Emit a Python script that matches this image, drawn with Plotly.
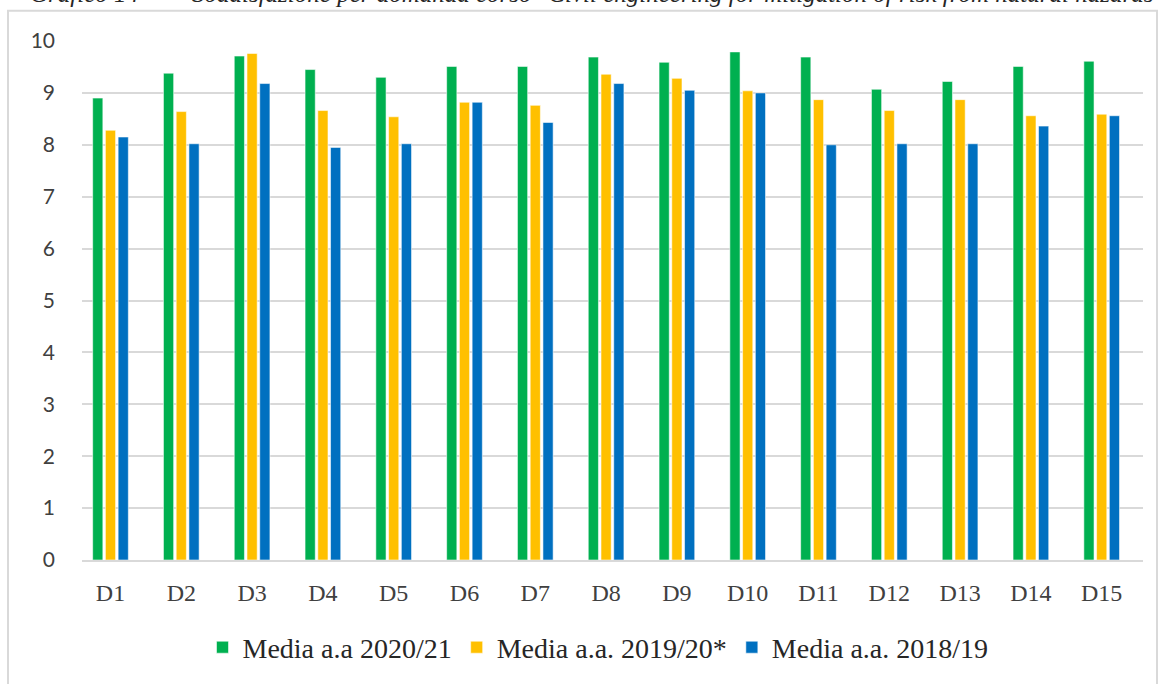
import plotly.graph_objects as go

categories = ["D1", "D2", "D3", "D4", "D5", "D6", "D7", "D8", "D9", "D10",
              "D11", "D12", "D13", "D14", "D15"]
media_2020_21 = [8.90, 9.38, 9.71, 9.45, 9.30, 9.51, 9.51, 9.69, 9.59, 9.79,
                 9.69, 9.07, 9.22, 9.51, 9.61]
media_2019_20 = [8.28, 8.64, 9.76, 8.66, 8.54, 8.82, 8.76, 9.36, 9.28, 9.04,
                 8.87, 8.66, 8.87, 8.56, 8.59]
media_2018_19 = [8.15, 8.02, 9.18, 7.95, 8.02, 8.82, 8.43, 9.18, 9.05, 9.00,
                 8.00, 8.02, 8.02, 8.36, 8.56]
series_names = ["Media a.a 2020/21", "Media a.a. 2019/20*", "Media a.a. 2018/19"]
series_colors = ["#00B050", "#FFC000", "#0070C0"]
y_ticks = [0, 1, 2, 3, 4, 5, 6, 7, 8, 9, 10]

W, H = 1162, 684
L, R, T, B = 82, 19, 41, 121
pw, ph = W - L - R, H - T - B

def px_x(x):
    return (x - L) / pw

def px_y(y):
    return (H - B - y) / ph

fig = go.Figure()
for name, vals, col in zip(series_names, [media_2020_21, media_2019_20, media_2018_19], series_colors):
    fig.add_trace(go.Bar(
        x=categories, y=vals, name=name,
        marker=dict(color=col, line=dict(color="rgba(255,255,255,0.55)", width=1)),
    ))

fig.update_layout(
    width=W, height=H, autosize=False,
    margin=dict(l=L, r=R, t=T, b=B),
    paper_bgcolor="white", plot_bgcolor="white",
    barmode="group", bargap=0.46, bargroupgap=0.2,
    showlegend=True,
    legend=dict(
        orientation="h", x=px_x(598), xanchor="center", y=px_y(651), yanchor="middle",
        font=dict(family="Liberation Serif", size=28, color="#262626"),
        itemwidth=30, tracegroupgap=0,
    ),
    xaxis=dict(
        range=[-0.4025, 14.5835],
        showgrid=False, showline=True, linecolor="#D9D9D9", linewidth=2,
        ticks="", tickfont=dict(family="Liberation Serif", size=24, color="#404040"),
        ticklabelstandoff=10,
    ),
    yaxis=dict(
        range=[0, 10], tickvals=y_ticks, showgrid=True, gridcolor="#D9D9D9", gridwidth=2,
        zeroline=False, showline=False, ticks="",
        tickfont=dict(family="Lato", size=21, color="#404040"),
        ticklabelstandoff=26,
    ),
    shapes=[dict(
        type="rect", xref="paper", yref="paper",
        x0=px_x(8), x1=px_x(1157), y0=px_y(720), y1=px_y(10.5),
        line=dict(color="#D9D9D9", width=2), fillcolor="rgba(0,0,0,0)", layer="below",
    )],
    annotations=[
        dict(text="<i>Grafico 14</i>", xref="paper", yref="paper",
             x=px_x(28), xanchor="left", y=px_y(9), yanchor="bottom", showarrow=False,
             font=dict(family="Liberation Serif", size=25, color="#262626")),
        dict(text="<i>Soddisfazione per domanda corso \"Civil engineering for mitigation of risk from natural hazards\"</i>",
             xref="paper", yref="paper",
             x=px_x(190), xanchor="left", y=px_y(9), yanchor="bottom", showarrow=False,
             font=dict(family="Liberation Serif", size=25, color="#262626")),
    ],
)

fig.write_html("out.html", config={"displayModeBar": False},
               post_script="document.body.style.margin='0';document.body.style.overflow='hidden';")
